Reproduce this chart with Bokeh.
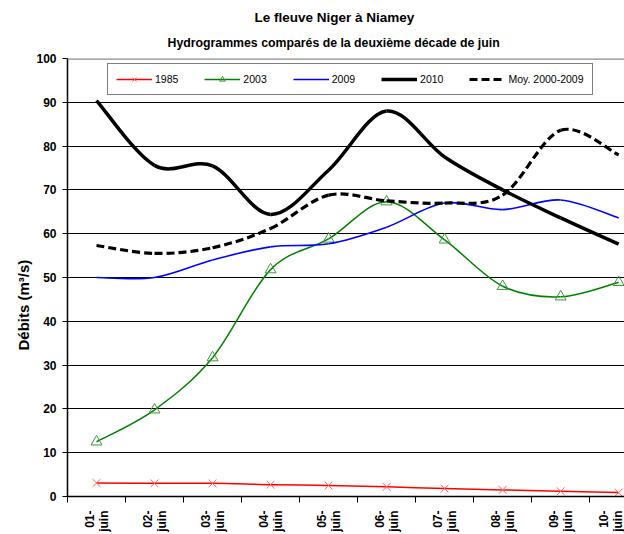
import math
from bokeh.plotting import figure
from bokeh.models import Range1d, FixedTicker, Legend, LegendItem, Span, Title
from bokeh.embed import file_html
from bokeh.resources import INLINE

# ---- data ----
days = ["01-\njuin", "02-\njuin", "03-\njuin", "04-\njuin", "05-\njuin",
        "06-\njuin", "07-\njuin", "08-\njuin", "09-\njuin", "10-\njuin"]
v1985 = [3.1, 3.0, 3.0, 2.7, 2.5, 2.2, 1.8, 1.5, 1.2, 0.9]
v2003 = [12.5, 19.8, 31.7, 51.8, 58.8, 67.3, 58.6, 48.0, 45.6, 48.9]
v2009 = [50.0, 50.0, 54.0, 57.0, 57.7, 61.5, 67.0, 65.5, 67.7, 63.6]
v2010 = [90.4, 75.6, 75.5, 64.4, 74.5, 88.0, 77.5, 70.0, 63.6, 57.6]
vmoy = [57.3, 55.5, 56.8, 61.2, 68.8, 67.5, 67.0, 68.8, 83.6, 78.0]
series_names = ["1985", "2003", "2009", "2010", "Moy. 2000-2009"]
y_ticks = [0, 10, 20, 30, 40, 50, 60, 70, 80, 90, 100]

xs = list(range(1, len(days) + 1))


def smooth_segments(x, y):
    """Bezier control points (Catmull-Rom style smoothing, as Excel does)."""
    n = len(x)
    out = dict(x0=[], y0=[], x1=[], y1=[], cx0=[], cy0=[], cx1=[], cy1=[])
    for i in range(n - 1):
        p0 = i - 1 if i > 0 else i
        p3 = i + 2 if i + 2 < n else i + 1
        out["x0"].append(x[i]); out["y0"].append(y[i])
        out["x1"].append(x[i + 1]); out["y1"].append(y[i + 1])
        out["cx0"].append(x[i] + (x[i + 1] - x[p0]) / 6.0)
        out["cy0"].append(y[i] + (y[i + 1] - y[p0]) / 6.0)
        out["cx1"].append(x[i + 1] - (x[p3] - x[i]) / 6.0)
        out["cy1"].append(y[i + 1] - (y[p3] - y[i]) / 6.0)
    return out


p = figure(width=624, height=534, output_backend="svg", toolbar_location=None,
           x_range=Range1d(0.5, 10.1), y_range=Range1d(0, 100),
           min_border_left=67, min_border_right=0, min_border_top=58,
           min_border_bottom=0)
p.background_fill_color = "white"
p.border_fill_color = "white"
p.outline_line_color = None

# titles
t2 = Title(text="Hydrogrammes comparés de la deuxième décade de juin",
           align="left", offset=100, text_font="Liberation Sans",
           text_font_style="bold", text_font_size="12.3px", standoff=18,
           text_color="black", text_line_height=0.9)
t1 = Title(text="Le fleuve Niger à Niamey", align="left", offset=187,
           text_font="Liberation Sans", text_font_style="bold",
           text_font_size="13.5px", standoff=0, text_color="black",
           text_line_height=0.9)
p.add_layout(t2, "above")
p.add_layout(t1, "above")

# axes
ax = p.xaxis[0]
ax.ticker = FixedTicker(ticks=xs, minor_ticks=[v - 0.5 for v in xs])
ax.major_label_overrides = {x: d for x, d in zip(xs, days)}
ax.major_label_orientation = math.pi / 2
ax.major_label_standoff = 8
ax.major_label_text_font = "Liberation Sans"
ax.major_label_text_font_style = "bold"
ax.major_label_text_font_size = "12px"
ax.major_label_text_color = "black"
ax.major_label_text_line_height = 1.0
ax.major_tick_out = 0
ax.major_tick_in = 0
ax.minor_tick_out = 6
ax.minor_tick_in = 0
ax.minor_tick_line_color = "black"
ax.axis_line_color = "black"
ax.axis_line_width = 1.5

ay = p.yaxis[0]
ay.ticker = FixedTicker(ticks=y_ticks)
ay.major_tick_out = 5
ay.major_tick_in = 0
ay.minor_tick_line_color = None
ay.axis_line_color = "black"
ay.axis_line_width = 1.5
ay.major_label_standoff = 6
ay.major_label_text_font = "Liberation Sans"
ay.major_label_text_font_style = "bold"
ay.major_label_text_font_size = "12px"
ay.major_label_text_color = "black"

ylab = Title(text="Débits (m³/s)", align="left", offset=146,
             text_font="Liberation Sans", text_font_style="bold",
             text_font_size="15px", standoff=4, text_color="black")
p.add_layout(ylab, "left")

p.xgrid.grid_line_color = None
p.ygrid.ticker = FixedTicker(ticks=y_ticks)
p.ygrid.grid_line_color = "black"
p.ygrid.grid_line_width = 1
p.add_layout(Span(location=y_ticks[-1], dimension="width",
                  line_color="#8c8c8c", line_width=2.5))

# series
s = smooth_segments(xs, v1985)
r1985 = p.bezier(source=s, x0="x0", y0="y0", x1="x1", y1="y1", cx0="cx0",
                 cy0="cy0", cx1="cx1", cy1="cy1", line_color="#ff0000",
                 line_width=1.5)
m1985 = p.scatter(xs, v1985, marker="x", size=11, line_color="#ff6060",
                  line_width=1)

s = smooth_segments(xs, v2003)
r2003 = p.bezier(source=s, x0="x0", y0="y0", x1="x1", y1="y1", cx0="cx0",
                 cy0="cy0", cx1="cx1", cy1="cy1", line_color="#008000",
                 line_width=1.5)
m2003 = p.scatter(xs, v2003, marker="triangle", size=11, line_color="#3a9a3a",
                  fill_color=None, line_width=1)

s = smooth_segments(xs, v2009)
r2009 = p.bezier(source=s, x0="x0", y0="y0", x1="x1", y1="y1", cx0="cx0",
                 cy0="cy0", cx1="cx1", cy1="cy1", line_color="#0000ff",
                 line_width=1.6)

s = smooth_segments(xs, vmoy)
rmoy = p.bezier(source=s, x0="x0", y0="y0", x1="x1", y1="y1", cx0="cx0",
                cy0="cy0", cx1="cx1", cy1="cy1", line_color="black",
                line_width=3.2, line_dash="8 4")

s = smooth_segments(xs, v2010)
r2010 = p.bezier(source=s, x0="x0", y0="y0", x1="x1", y1="y1", cx0="cx0",
                 cy0="cy0", cx1="cx1", cy1="cy1", line_color="black",
                 line_width=3.5)

legend = Legend(items=[
    LegendItem(label=series_names[0], renderers=[r1985, m1985], index=0),
    LegendItem(label=series_names[1], renderers=[r2003, m2003], index=0),
    LegendItem(label=series_names[2], renderers=[r2009], index=0),
    LegendItem(label=series_names[3], renderers=[r2010], index=0),
    LegendItem(label=series_names[4], renderers=[rmoy], index=0),
], orientation="horizontal", location=(40, 401))
legend.glyph_width = 36
legend.glyph_height = 14
legend.label_standoff = 3
legend.spacing = 26
legend.padding = 8
legend.margin = 0
legend.label_text_font = "Liberation Sans"
legend.label_text_font_size = "10.5px"
legend.label_text_color = "black"
legend.border_line_color = "black"
legend.border_line_width = 1
legend.background_fill_color = "white"
legend.background_fill_alpha = 1
p.add_layout(legend, "center")

open("out.html", "w").write(file_html(p, INLINE))
